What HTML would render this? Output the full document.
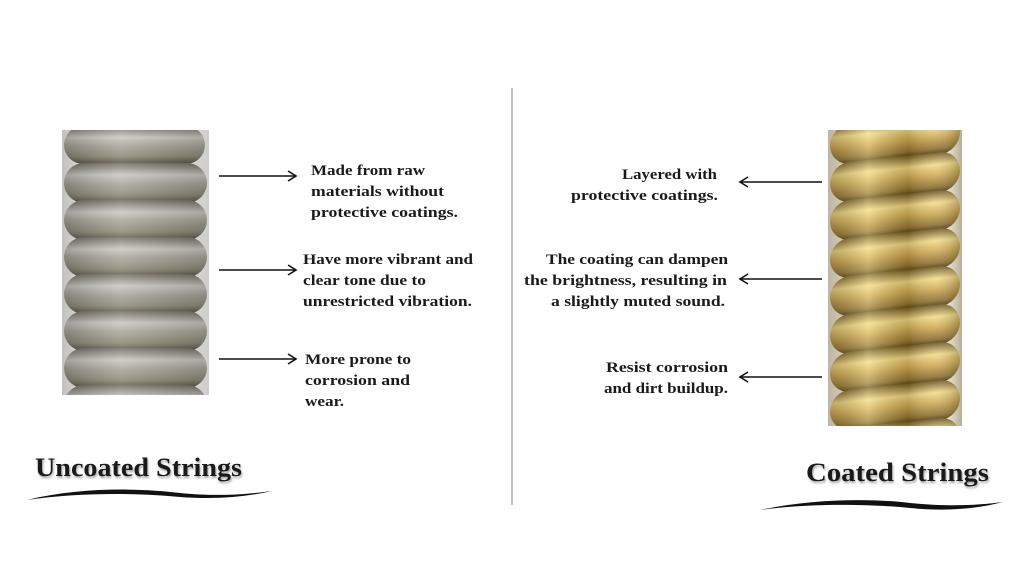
<!DOCTYPE html>
<html><head><meta charset="utf-8"><style>
html,body{margin:0;padding:0;background:#fff;width:1024px;height:576px;overflow:hidden}
svg{display:block}
text{font-family:"Liberation Serif",serif;font-weight:bold;fill:#1a1a1a}
</style></head><body>
<svg width="1024" height="576" viewBox="0 0 1024 576" xmlns="http://www.w3.org/2000/svg">
<defs>
<linearGradient id="sil" x1="0" y1="0" x2="0" y2="1">
<stop offset="0" stop-color="#6e6a60"/><stop offset="0.3" stop-color="#c8c6bf"/><stop offset="0.5" stop-color="#a9a69c"/><stop offset="0.8" stop-color="#8a8574"/><stop offset="1" stop-color="#4e4a40"/></linearGradient>
<linearGradient id="silh" x1="0" y1="0" x2="1" y2="0">
<stop offset="0" stop-color="#000" stop-opacity="0.2"/><stop offset="0.4" stop-color="#fff" stop-opacity="0.15"/><stop offset="1" stop-color="#000" stop-opacity="0.15"/></linearGradient>
<linearGradient id="gold" x1="0" y1="0" x2="0" y2="1">
<stop offset="0" stop-color="#6b5420"/><stop offset="0.3" stop-color="#f3dc8a"/><stop offset="0.55" stop-color="#d0ad58"/><stop offset="0.85" stop-color="#8e7030"/><stop offset="1" stop-color="#3e2f0c"/></linearGradient>
<linearGradient id="goldh" x1="0" y1="0" x2="1" y2="0">
<stop offset="0" stop-color="#3a2a05" stop-opacity="0.3"/><stop offset="0.3" stop-color="#fff6c0" stop-opacity="0.35"/><stop offset="0.6" stop-color="#5a4410" stop-opacity="0.25"/><stop offset="0.8" stop-color="#fff" stop-opacity="0.1"/><stop offset="1" stop-color="#3a2a05" stop-opacity="0.35"/></linearGradient>
<marker id="ah" markerWidth="12" markerHeight="12" refX="10" refY="6" orient="auto" markerUnits="userSpaceOnUse"><path d="M2,1 L10,6 L2,11" fill="none" stroke="#111" stroke-width="1.6"/></marker>
<clipPath id="cl"><rect x="62" y="130" width="147" height="265"/></clipPath>
<clipPath id="cr"><rect x="828" y="130" width="134" height="296"/></clipPath>
</defs>
<g clip-path="url(#cl)">
<rect x="62" y="130" width="147" height="265" fill="#f4f2ee"/>
<rect x="80" y="130" width="110" height="265" fill="#5a554a"/>
<g>
<rect x="64" y="126" width="141" height="38" rx="19" fill="url(#sil)"/>
<rect x="64" y="163" width="143" height="40" rx="20" fill="url(#sil)"/>
<rect x="64" y="200" width="143" height="40" rx="20" fill="url(#sil)"/>
<rect x="64" y="237" width="143" height="40" rx="20" fill="url(#sil)"/>
<rect x="64" y="274" width="143" height="40" rx="20" fill="url(#sil)"/>
<rect x="64" y="311" width="143" height="40" rx="20" fill="url(#sil)"/>
<rect x="64" y="348" width="143" height="40" rx="20" fill="url(#sil)"/>
<rect x="64" y="385" width="143" height="40" rx="20" fill="url(#sil)"/>
</g>
<rect x="62" y="130" width="147" height="265" fill="url(#silh)"/>
</g>
<g clip-path="url(#cr)">
<rect x="828" y="130" width="134" height="296" fill="#f6f2e6"/>
<rect x="845" y="130" width="100" height="296" fill="#5a4512"/>
<g transform="skewY(-6) translate(0,95)">
<rect x="830" y="118" width="130" height="40" rx="20" fill="url(#gold)"/>
<rect x="830" y="156" width="130" height="40" rx="20" fill="url(#gold)"/>
<rect x="830" y="194" width="130" height="40" rx="20" fill="url(#gold)"/>
<rect x="830" y="232" width="130" height="40" rx="20" fill="url(#gold)"/>
<rect x="830" y="270" width="130" height="40" rx="20" fill="url(#gold)"/>
<rect x="830" y="308" width="130" height="40" rx="20" fill="url(#gold)"/>
<rect x="830" y="346" width="130" height="40" rx="20" fill="url(#gold)"/>
<rect x="830" y="384" width="130" height="40" rx="20" fill="url(#gold)"/>
<rect x="830" y="422" width="130" height="40" rx="20" fill="url(#gold)"/>
</g>
<rect x="828" y="130" width="134" height="296" fill="url(#goldh)"/>
</g>
<line x1="512" y1="88" x2="512" y2="505" stroke="#999" stroke-width="1.2"/>
<g stroke="#111" stroke-width="1.6" marker-end="url(#ah)">
<line x1="219" y1="176" x2="296" y2="176"/>
<line x1="219" y1="270" x2="296" y2="270"/>
<line x1="219" y1="359" x2="296" y2="359"/>
<line x1="822" y1="182" x2="740" y2="182"/>
<line x1="822" y1="279" x2="740" y2="279"/>
<line x1="822" y1="377" x2="740" y2="377"/>
</g>
<g font-size="15">
<text x="311" y="175" textLength="114" lengthAdjust="spacingAndGlyphs">Made from raw</text>
<text x="311" y="196" textLength="133" lengthAdjust="spacingAndGlyphs">materials without</text>
<text x="311" y="217" textLength="147" lengthAdjust="spacingAndGlyphs">protective coatings.</text>
<text x="303" y="264" textLength="170" lengthAdjust="spacingAndGlyphs">Have more vibrant and</text>
<text x="303" y="285" textLength="123" lengthAdjust="spacingAndGlyphs">clear tone due to</text>
<text x="303" y="306" textLength="169" lengthAdjust="spacingAndGlyphs">unrestricted vibration.</text>
<text x="305" y="364" textLength="106" lengthAdjust="spacingAndGlyphs">More prone to</text>
<text x="305" y="385" textLength="105" lengthAdjust="spacingAndGlyphs">corrosion and</text>
<text x="305" y="406" textLength="39" lengthAdjust="spacingAndGlyphs">wear.</text>
<text x="622" y="179" textLength="95" lengthAdjust="spacingAndGlyphs">Layered with</text>
<text x="571" y="200" textLength="147" lengthAdjust="spacingAndGlyphs">protective coatings.</text>
<text x="546" y="264" textLength="182" lengthAdjust="spacingAndGlyphs">The coating can dampen</text>
<text x="524" y="285" textLength="203" lengthAdjust="spacingAndGlyphs">the brightness, resulting in</text>
<text x="551" y="306" textLength="174" lengthAdjust="spacingAndGlyphs">a slightly muted sound.</text>
<text x="606" y="372" textLength="122" lengthAdjust="spacingAndGlyphs">Resist corrosion</text>
<text x="604" y="393" textLength="124" lengthAdjust="spacingAndGlyphs">and dirt buildup.</text>
</g>
<g font-size="26" style="filter:drop-shadow(1px 2px 1px rgba(0,0,0,0.35))">
<text x="35" y="476" textLength="207" lengthAdjust="spacingAndGlyphs">Uncoated Strings</text>
<text x="806" y="481" textLength="183" lengthAdjust="spacingAndGlyphs">Coated  Strings</text>
</g>
<path d="M27,500 C80,487 140,488 180,493 C220,497 250,494 272,491 C250,496 220,500 180,497 C140,493 80,492 27,500 Z" fill="#111"/>
<path d="M760,510 C810,499 870,498 910,503 C950,507 980,505 1003,502 C980,508 950,512 910,508 C870,504 810,503 760,510 Z" fill="#111"/>
</svg>
</body></html>
